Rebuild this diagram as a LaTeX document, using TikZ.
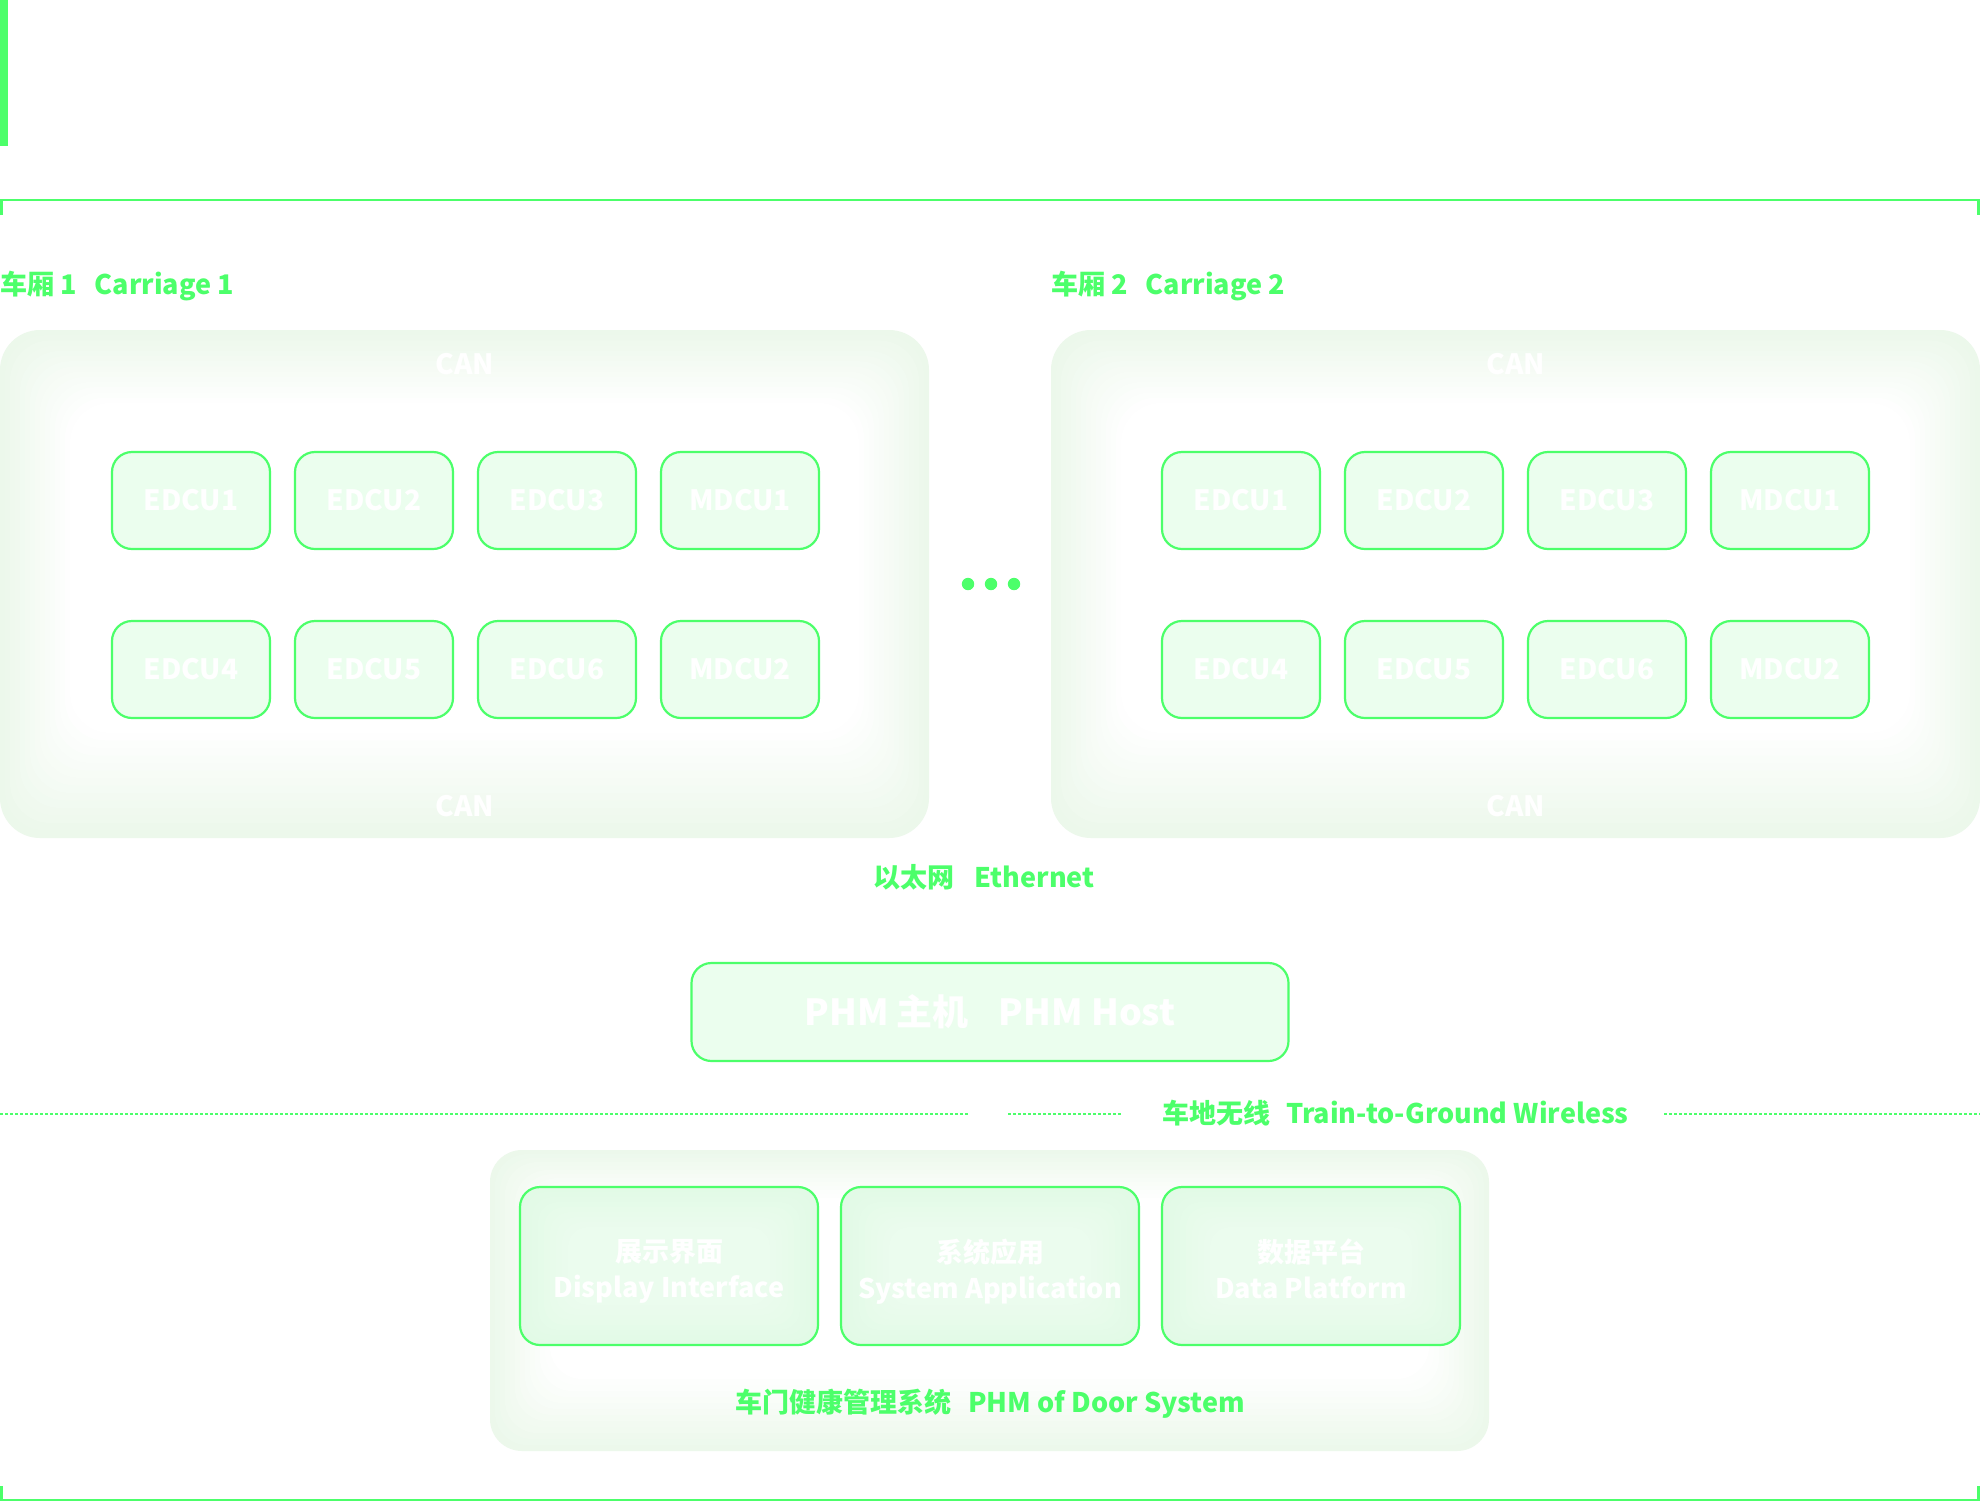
\documentclass[tikz,border=0pt]{standalone}
\usepackage{fontspec}
\setmainfont{Noto Sans CJK SC}
\definecolor{gr}{HTML}{4CFF6A}
\definecolor{edgegr}{HTML}{ECF8EB}
\definecolor{boxfill}{HTML}{EBFEEE}
\definecolor{appfill}{HTML}{E2FAE6}
\tikzset{
  unitbox/.style={draw=gr, line width=2.2pt, fill=boxfill, rounded corners=20pt,
    minimum width=158pt, minimum height=97pt, inner sep=0pt, text=white,
    font=\fontsize{28}{32}\selectfont\bfseries},
  hostbox/.style={draw=gr, line width=2.2pt, fill=boxfill, rounded corners=20pt,
    minimum width=597pt, minimum height=98pt, inner sep=0pt, text=white,
    font=\fontsize{36}{40}\selectfont\bfseries},
  appbox/.style={draw=gr, line width=2.2pt, rounded corners=20pt,
    minimum width=298pt, minimum height=158pt, inner sep=0pt},
  apptext/.style={text=white, align=center, inner sep=0pt,
    font=\fontsize{27}{36}\selectfont\bfseries},
  glabel/.style={text=gr, inner sep=0pt, font=\fontsize{27}{32}\selectfont\bfseries},
  canlabel/.style={text=white, inner sep=0pt, font=\fontsize{28}{32}\selectfont\bfseries},
  frameline/.style={draw=gr, line width=2.6pt},
  wireline/.style={draw=gr, line width=1.5pt, dash pattern=on 3pt off 2pt},
  dot/.style={fill=gr},
}
\begin{document}
\begin{tikzpicture}[x=1pt,y=-1pt]
\useasboundingbox (0,0) rectangle (1980,1502);
\fill[white] (0,0) rectangle (1980,1502);

% top-left accent bar and frame
\fill[gr] (0,0) rectangle (8,146);
\coordinate (tl) at (1.3,215);
\coordinate (tr) at (1978.7,215);
\coordinate (bl) at (1.3,1486);
\coordinate (br) at (1978.7,1486);
\draw[frameline] (tl) -- (1.3,200) -- (1978.7,200) -- (tr);
\draw[frameline] (bl) -- (1.3,1500) -- (1978.7,1500) -- (br);

% carriage panels with soft edge gradient (opaque colour steps)
\foreach \ox in {0,1051}{
  \fill[edgegr, rounded corners=40pt] (\ox,330) rectangle (\ox+929,838);
  \foreach \i in {1,...,14}{
    \pgfmathtruncatemacro{\pw}{min(100,\i*7.2)}
    \fill[white!\pw!edgegr, rounded corners=40pt]
      ({\ox+\i*5},{330+\i*5.2}) rectangle ({\ox+929-\i*5},{838-\i*7.5});
  }
}
\node[glabel, anchor=west] (c1lab) at (0,286) {车厢 1\hspace{18pt}Carriage 1};
\node[glabel, anchor=west] (c2lab) at (1051,286) {车厢 2\hspace{18pt}Carriage 2};

\node[canlabel] (can1t) at (465,364) {CAN};
\node[canlabel] (can1b) at (465,806) {CAN};
\node[canlabel] (can2t) at (1516,364) {CAN};
\node[canlabel] (can2b) at (1516,806) {CAN};

% carriage 1 units
\node[unitbox] (a1) at (191,500.5) {EDCU1};
\node[unitbox] (a2) at (374,500.5) {EDCU2};
\node[unitbox] (a3) at (557,500.5) {EDCU3};
\node[unitbox] (a4) at (740,500.5) {MDCU1};
\node[unitbox] (a5) at (191,669.5) {EDCU4};
\node[unitbox] (a6) at (374,669.5) {EDCU5};
\node[unitbox] (a7) at (557,669.5) {EDCU6};
\node[unitbox] (a8) at (740,669.5) {MDCU2};
% carriage 2 units
\node[unitbox] (b1) at (1241,500.5) {EDCU1};
\node[unitbox] (b2) at (1424,500.5) {EDCU2};
\node[unitbox] (b3) at (1607,500.5) {EDCU3};
\node[unitbox] (b4) at (1790,500.5) {MDCU1};
\node[unitbox] (b5) at (1241,669.5) {EDCU4};
\node[unitbox] (b6) at (1424,669.5) {EDCU5};
\node[unitbox] (b7) at (1607,669.5) {EDCU6};
\node[unitbox] (b8) at (1790,669.5) {MDCU2};

% ellipsis dots
\fill[dot] (968,584) circle (6.2);
\fill[dot] (991,584) circle (6.2);
\fill[dot] (1014,584) circle (6.2);

\node[glabel] (eth) at (984,877) {以太网\hspace{20pt}Ethernet};

\node[hostbox] (host) at (990,1012) {PHM 主机\hspace{30pt}PHM Host};

% train-to-ground wireless
\coordinate (w0) at (0,1114);
\coordinate (w1) at (969,1114);
\coordinate (w2) at (1008,1114);
\coordinate (w3) at (1122,1114);
\coordinate (w4) at (1664,1114);
\coordinate (w5) at (1980,1114);
\draw[wireline] (w0) -- (w1);
\draw[wireline] (w2) -- (w3);
\draw[wireline] (w4) -- (w5);
\node[glabel, anchor=west] (wl) at (1162,1113) {车地无线\hspace{16pt}Train-to-Ground Wireless};

% PHM of door system panel
\fill[edgegr, rounded corners=32pt] (490,1150) rectangle (1489,1451);
\foreach \i in {1,...,12}{
  \pgfmathtruncatemacro{\pw}{min(100,\i*8.4)}
  \fill[white!\pw!edgegr, rounded corners=32pt]
    ({490+\i*5},{1150+\i*4}) rectangle ({1489-\i*5},{1451-\i*6});
}
% app boxes: soft inner glow
\foreach \cx in {669,990,1311}{
  \fill[appfill, rounded corners=20pt] (\cx-149,1187) rectangle (\cx+149,1345);
  \foreach \i in {1,...,8}{
    \pgfmathtruncatemacro{\pw}{\i*4}
    \fill[white!\pw!appfill, rounded corners=20pt]
      ({\cx-149+\i*6},{1187+\i*5}) rectangle ({\cx+149-\i*6},{1345-\i*5});
  }
}
\node[appbox] (p1) at (669,1266) {};
\node[appbox] (p2) at (990,1266) {};
\node[appbox] (p3) at (1311,1266) {};
\node[apptext] (t1) at ([yshift=-8pt]p1.center) {展示界面\\Display Interface\strut};
\node[apptext] (t2) at ([yshift=-8pt]p2.center) {系统应用\\System Application\strut};
\node[apptext] (t3) at ([yshift=-8pt]p3.center) {数据平台\\Data Platform\strut};
\node[glabel] (door) at (990,1404) {车门健康管理系统\hspace{17pt}PHM of Door System};
\end{tikzpicture}
\end{document}
